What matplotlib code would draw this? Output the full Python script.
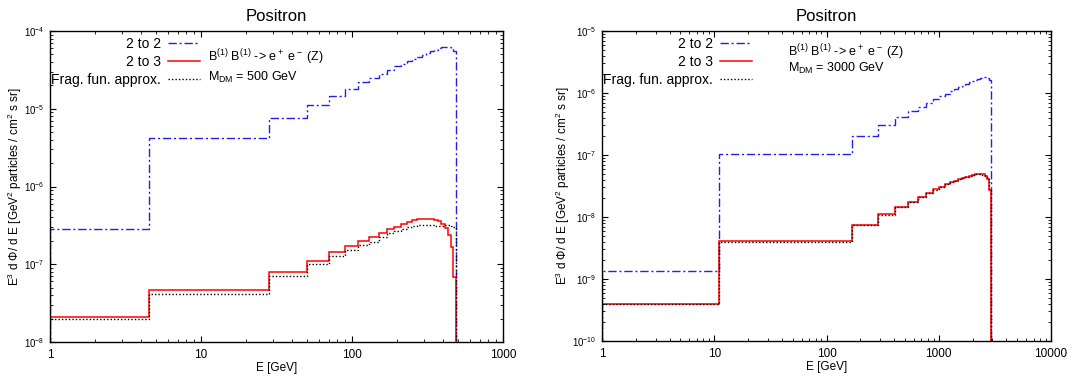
import numpy as np
import matplotlib
matplotlib.use("Agg")
import matplotlib.pyplot as plt
from matplotlib.ticker import LogLocator, FuncFormatter, NullFormatter

plt.rcParams['font.family'] = ['Liberation Sans', 'DejaVu Sans']
plt.rcParams['mathtext.fontset'] = 'custom'
plt.rcParams['mathtext.rm'] = 'Liberation Sans'
plt.rcParams['mathtext.it'] = 'Liberation Sans:italic'
plt.rcParams['mathtext.bf'] = 'Liberation Sans:bold'

# ---- M_DM = 500 GeV ----
edges_500 = [1, 4.5, 28.3, 50, 70, 90, 110, 130, 150, 170, 190, 210, 230, 250,
             270, 290, 310, 330, 350, 370, 390, 410, 430, 450, 470, 490]
two2two_500 = [2.84e-7, 4.17e-6, 7.67e-6, 1.12e-5, 1.46e-5, 1.82e-5, 2.18e-5, 2.5e-5,
               2.83e-5, 3.15e-5, 3.5e-5, 3.79e-5, 4.09e-5, 4.38e-5, 4.69e-5, 4.97e-5,
               5.21e-5, 5.47e-5, 5.75e-5, 5.97e-5, 6.15e-5, 6.27e-5, 6.3e-5, 6.1e-5, 5.58e-5]
two2three_500 = [2.12e-8, 4.62e-8, 7.87e-8, 1.11e-7, 1.45e-7, 1.72e-7, 2.0e-7, 2.26e-7,
                 2.55e-7, 2.82e-7, 3.05e-7, 3.31e-7, 3.48e-7, 3.66e-7, 3.77e-7, 3.85e-7,
                 3.85e-7, 3.81e-7, 3.72e-7, 3.6e-7, 3.3e-7, 2.95e-7, 2.4e-7, 1.66e-7, 6.9e-8]
frag_500 = [1.98e-8, 4.18e-8, 7.13e-8, 9.98e-8, 1.29e-7, 1.51e-7, 1.78e-7, 1.96e-7,
            2.21e-7, 2.5e-7, 2.7e-7, 2.85e-7, 3.0e-7, 3.1e-7, 3.18e-7, 3.22e-7,
            3.22e-7, 3.18e-7, 3.15e-7, 3.1e-7, 3.12e-7, 3.2e-7, 3.22e-7, 3.15e-7, 2.97e-7]

# ---- M_DM = 3000 GeV ----
edges_3000 = [1, 11, 170, 290, 410, 530, 650, 770, 890, 1010, 1130, 1250, 1370, 1490,
              1610, 1730, 1850, 1970, 2090, 2210, 2330, 2450, 2570, 2690, 2810, 2930]
two2two_3000 = [1.33e-9, 1.04e-7, 2.05e-7, 3.08e-7, 4.1e-7, 5.13e-7, 6.05e-7, 6.98e-7,
                7.9e-7, 8.85e-7, 9.75e-7, 1.06e-6, 1.15e-6, 1.24e-6, 1.32e-6, 1.4e-6,
                1.48e-6, 1.56e-6, 1.63e-6, 1.69e-6, 1.75e-6, 1.78e-6, 1.79e-6, 1.76e-6, 1.62e-6]
two2three_3000 = [4.0e-10, 4.06e-9, 7.5e-9, 1.1e-8, 1.45e-8, 1.77e-8, 2.1e-8, 2.45e-8,
                  2.78e-8, 3.08e-8, 3.36e-8, 3.62e-8, 3.86e-8, 4.08e-8, 4.28e-8, 4.46e-8,
                  4.62e-8, 4.76e-8, 4.87e-8, 4.93e-8, 4.93e-8, 4.85e-8, 4.65e-8, 4.1e-8, 2.7e-8]
frag_3000 = [3.95e-10, 4.02e-9, 7.45e-9, 1.09e-8, 1.44e-8, 1.76e-8, 2.09e-8, 2.44e-8,
             2.77e-8, 3.07e-8, 3.35e-8, 3.61e-8, 3.85e-8, 4.07e-8, 4.27e-8, 4.45e-8,
             4.61e-8, 4.75e-8, 4.86e-8, 4.92e-8, 4.92e-8, 4.84e-8, 4.64e-8, 4.1e-8, 2.7e-8]

panels = [
    dict(edges=edges_500, a=two2two_500, b=two2three_500, c=frag_500,
         xlim=(1, 1000), ylim=(1e-8, 1e-4), mass="500", txt=(0.349, 0.915, 0.852),
         rect=[50/1089, 34/376, 453/1089, 311/376]),
    dict(edges=edges_3000, a=two2two_3000, b=two2three_3000, c=frag_3000,
         xlim=(1, 10000), ylim=(1e-10, 1e-5), mass="3000", txt=(0.414, 0.932, 0.878),
         rect=[602/1089, 35/376, 449/1089, 310/376]),
]

fig = plt.figure(figsize=(10.89, 3.76), dpi=100)

for p in panels:
    ax = fig.add_axes(p['rect'])
    base = 1e-14
    ax.stairs(p['a'], p['edges'], baseline=base, color='#2020f0', lw=1.0,
              linestyle=(0, (6, 2, 1.5, 2)), label='2 to 2')
    ax.stairs(p['b'], p['edges'], baseline=base, color='#ff0000', lw=1.1,
              label='2 to 3')
    ax.stairs(p['c'], p['edges'], baseline=base, color='black', lw=1.0,
              linestyle=(0, (1, 1.5)), label='Frag. fun. approx.')
    ax.set_xscale('log')
    ax.set_yscale('log')
    ax.set_xlim(*p['xlim'])
    ax.set_ylim(*p['ylim'])

    ax.xaxis.set_major_formatter(FuncFormatter(lambda v, pos: '%d' % round(v)))
    ax.xaxis.set_minor_locator(LogLocator(base=10, subs=np.arange(2, 10)))
    ax.xaxis.set_minor_formatter(NullFormatter())
    ax.yaxis.set_major_locator(LogLocator(base=10, numticks=20))
    ax.yaxis.set_minor_locator(LogLocator(base=10, subs=np.arange(2, 10), numticks=20))
    ax.yaxis.set_minor_formatter(NullFormatter())
    ax.yaxis.set_major_formatter(FuncFormatter(
        lambda v, pos: r'10$^{%d}$' % round(np.log10(v))))
    ax.tick_params(which='both', direction='in', top=True, right=True)
    ax.tick_params(axis='x', labelsize=8.5, pad=5)
    ax.tick_params(axis='y', labelsize=7, pad=4)
    ax.tick_params(which='major', length=4, width=0.8)
    ax.tick_params(which='minor', length=2, width=0.6)
    for s in ax.spines.values():
        s.set_linewidth(1.0)

    ax.set_title('Positron', fontsize=12, pad=7)
    ax.set_xlabel('E [GeV]', fontsize=8.5, labelpad=1)
    ax.set_ylabel(r'E$^3$ d $\Phi$/ d E [GeV$^2$ particles / cm$^2$ s sr]',
                  fontsize=8.5, labelpad=0)

    leg = ax.legend(loc='upper left', bbox_to_anchor=(-0.004, 0.99), frameon=False,
                    markerfirst=False, fontsize=10, handlelength=2.3,
                    handletextpad=0.5, labelspacing=0.3, borderaxespad=0.0,
                    borderpad=0.2)
    for col in leg._legend_handle_box.get_children():
        col.align = 'right'

    tx, ty1, ty2 = p['txt']
    ax.text(tx, ty1, r'B$^{(1)}$ B$^{(1)}$ -> e$^+$ e$^-$ (Z)',
            transform=ax.transAxes, fontsize=9, va='center')
    ax.text(tx, ty2, r'M$_{\rm DM}$ = %s GeV' % p['mass'],
            transform=ax.transAxes, fontsize=9, va='center')

fig.savefig('out.png', dpi=100)
